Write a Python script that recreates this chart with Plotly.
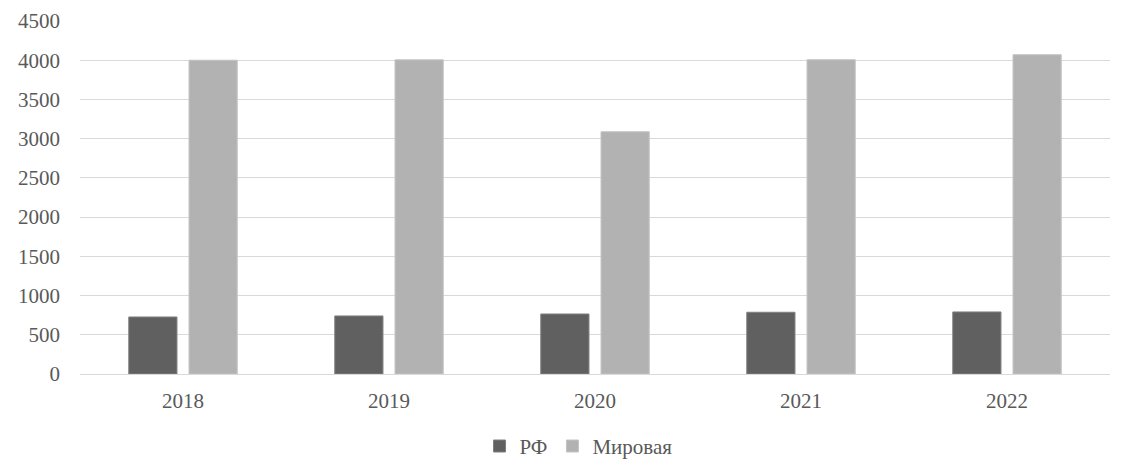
import plotly.graph_objects as go

years = ["2018", "2019", "2020", "2021", "2022"]
rf = [727, 740, 765, 787, 791]
world = [4000, 4005, 3088, 4006, 4070]

fig = go.Figure()
fig.add_trace(go.Bar(
    x=years, y=rf, name="РФ",
    marker=dict(color="#606060", line=dict(color="#808080", width=1))
))
fig.add_trace(go.Bar(
    x=years, y=world, name="Мировая",
    marker=dict(color="#b2b2b2", line=dict(color="#c4c4c4", width=1))
))

# page body has an 8px margin, so the figure is offset by 8px
fig.update_layout(
    width=1121, height=463,
    margin=dict(l=72, r=19, t=13, b=97, autoexpand=False),
    paper_bgcolor="white", plot_bgcolor="white",
    barmode="group", bargap=0.415, bargroupgap=0.2,
    font=dict(family="Liberation Serif", size=21, color="#595959"),
    showlegend=True,
    legend=dict(orientation="h", x=0.484, xanchor="center", y=-0.205, yanchor="middle",
                font=dict(family="Liberation Serif", size=21, color="#595959")),
)
fig.update_yaxes(range=[0, 4500], dtick=500, showgrid=True, gridcolor="#d9d9d9",
                 gridwidth=1, zeroline=True, zerolinecolor="#d9d9d9", zerolinewidth=1,
                 ticks="", ticklabelstandoff=19, automargin=False)
fig.update_xaxes(showline=True, linecolor="#d9d9d9", linewidth=1, ticks="",
                 ticklabelstandoff=8, automargin=False)

fig.write_html("out.html")
